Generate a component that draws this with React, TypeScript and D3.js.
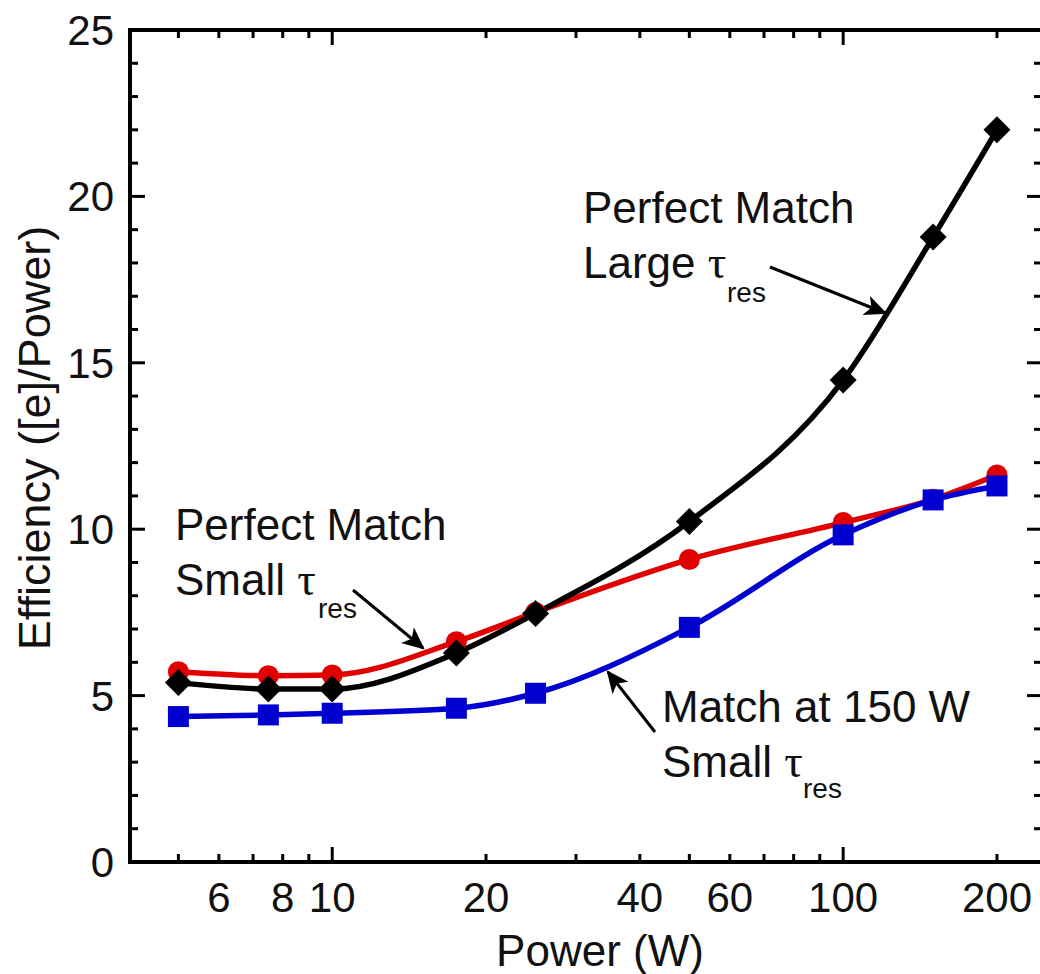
import React from "react";
import * as d3 from "d3";

// Input power (W) at which efficiency was evaluated
const powers = [5, 7.5, 10, 17.5, 25, 50, 100, 150, 200];

// Efficiency ([e]/Power) for each configuration
const perfectLarge = [5.39, 5.2, 5.2, 6.28, 7.47, 10.23, 14.48, 18.78, 22.0];
const perfectSmall = [5.72, 5.6, 5.62, 6.62, 7.5, 9.09, 10.2, 10.9, 11.63];
const match150Small = [4.37, 4.42, 4.47, 4.62, 5.07, 7.05, 9.83, 10.88, 11.3];

const xTickLabels = [6, 8, 10, 20, 40, 60, 100, 200];
const xMinorTicks = [5, 6, 7, 8, 9, 20, 30, 40, 50, 60, 70, 80, 90, 200];
const xMajorTicks = [10, 100];
const yTickLabels = [0, 5, 10, 15, 20, 25];

const W = 1040;
const H = 974;
const FONT = "'Liberation Sans', Arial, sans-serif";

export default function App() {
  const left = 130;
  const right = 1042;
  const top = 30;
  const bottom = 862;

  const x = d3.scaleLog().domain([4.02, 245]).range([left, right]);
  const y = d3.scaleLinear().domain([0, 25]).range([bottom, top]);

  const line = d3
    .line<number>()
    .x((_, i) => x(powers[i]))
    .y((d) => y(d))
    .curve(d3.curveMonotoneX);

  const yMinor = d3.range(0, 26, 1).filter((v) => v % 5 !== 0);
  const yMajor = d3.range(0, 26, 5);

  const axisW = 4;
  const tickMajor = 15;
  const tickMinor = 8;

  const diamond = (cx: number, cy: number, r: number) =>
    `M${cx},${cy - r}L${cx + r},${cy}L${cx},${cy + r}L${cx - r},${cy}Z`;

  const red = "#e00000";
  const blue = "#0000d0";
  const lw = 5.5;

  return (
    <svg
      width={W}
      height={H}
      style={{ position: "absolute", left: 0, top: 0, background: "#fff" }}
      fontFamily={FONT}
    >
      <defs>
        <marker
          id="arrow"
          viewBox="0 0 10 10"
          refX="9"
          refY="5"
          markerWidth="7.5"
          markerHeight="7.5"
          markerUnits="strokeWidth"
          orient="auto"
        >
          <path d="M0,0.5L10,5L0,9.5L2.5,5Z" fill="#000" />
        </marker>
      </defs>

      {/* series lines */}
      <path d={line(perfectSmall) ?? ""} fill="none" stroke={red} strokeWidth={lw} />
      <path d={line(perfectLarge) ?? ""} fill="none" stroke="#000" strokeWidth={lw} />
      <path d={line(match150Small) ?? ""} fill="none" stroke={blue} strokeWidth={lw} />

      {/* markers */}
      {perfectSmall.map((v, i) => (
        <circle key={`r${i}`} cx={x(powers[i])} cy={y(v)} r={10.5} fill={red} />
      ))}
      {perfectLarge.map((v, i) => (
        <path key={`k${i}`} d={diamond(x(powers[i]), y(v), 13.5)} fill="#000" />
      ))}
      {match150Small.map((v, i) => (
        <rect
          key={`b${i}`}
          x={x(powers[i]) - 10.5}
          y={y(v) - 10.5}
          width={21}
          height={21}
          fill={blue}
        />
      ))}

      {/* frame */}
      <rect
        x={left}
        y={top}
        width={right - left}
        height={bottom - top}
        fill="none"
        stroke="#000"
        strokeWidth={axisW}
      />

      {/* x ticks (bottom and top, inward) */}
      {xMinorTicks.map((t) => (
        <g key={`xm${t}`}>
          <line x1={x(t)} x2={x(t)} y1={bottom} y2={bottom - tickMinor} stroke="#000" strokeWidth={3} />
          <line x1={x(t)} x2={x(t)} y1={top} y2={top + tickMinor} stroke="#000" strokeWidth={3} />
        </g>
      ))}
      {xMajorTicks.map((t) => (
        <g key={`xM${t}`}>
          <line x1={x(t)} x2={x(t)} y1={bottom} y2={bottom - tickMajor} stroke="#000" strokeWidth={3} />
          <line x1={x(t)} x2={x(t)} y1={top} y2={top + tickMajor} stroke="#000" strokeWidth={3} />
        </g>
      ))}

      {/* y ticks (left and right, inward) */}
      {yMinor.map((t) => (
        <g key={`ym${t}`}>
          <line x1={left} x2={left + tickMinor} y1={y(t)} y2={y(t)} stroke="#000" strokeWidth={3} />
          <line x1={right} x2={right - tickMinor} y1={y(t)} y2={y(t)} stroke="#000" strokeWidth={3} />
        </g>
      ))}
      {yMajor.map((t) => (
        <g key={`yM${t}`}>
          <line x1={left} x2={left + tickMajor} y1={y(t)} y2={y(t)} stroke="#000" strokeWidth={3} />
          <line x1={right} x2={right - tickMajor} y1={y(t)} y2={y(t)} stroke="#000" strokeWidth={3} />
        </g>
      ))}

      {/* tick labels */}
      {xTickLabels.map((t) => (
        <text key={`xl${t}`} x={x(t)} y={bottom + 50} textAnchor="middle" fontSize={42} fill="#111">
          {t}
        </text>
      ))}
      {yTickLabels.map((t) => (
        <text key={`yl${t}`} x={left - 16} y={y(t) + 15} textAnchor="end" fontSize={42} fill="#111">
          {t}
        </text>
      ))}

      {/* axis titles */}
      <text x={600} y={966} textAnchor="middle" fontSize={44} fill="#111">
        Power (W)
      </text>
      <text
        transform={`translate(50, 438) rotate(-90)`}
        textAnchor="middle"
        fontSize={45}
        fill="#111"
      >
        Efficiency ([e]/Power)
      </text>

      {/* annotations */}
      <g fontSize={44} fill="#111">
        <text x={583} y={223}>Perfect Match</text>
        <text x={583} y={278}>
          Large <tspan fontFamily="'Liberation Serif', serif" fontSize={46}>τ</tspan>
        </text>
        <text x={727} y={302} fontSize={28}>res</text>

        <text x={175} y={540}>Perfect Match</text>
        <text x={175} y={595}>
          Small <tspan fontFamily="'Liberation Serif', serif" fontSize={46}>τ</tspan>
        </text>
        <text x={318} y={618} fontSize={28}>res</text>

        <text x={662} y={722}>Match at 150 W</text>
        <text x={662} y={777}>
          Small <tspan fontFamily="'Liberation Serif', serif" fontSize={46}>τ</tspan>
        </text>
        <text x={803} y={798} fontSize={28}>res</text>
      </g>

      <line x1={770} y1={267} x2={885} y2={313} stroke="#000" strokeWidth={3} markerEnd="url(#arrow)" />
      <line x1={353} y1={590} x2={423} y2={648} stroke="#000" strokeWidth={3} markerEnd="url(#arrow)" />
      <line x1={655} y1={732} x2={608} y2={672} stroke="#000" strokeWidth={3} markerEnd="url(#arrow)" />
    </svg>
  );
}
